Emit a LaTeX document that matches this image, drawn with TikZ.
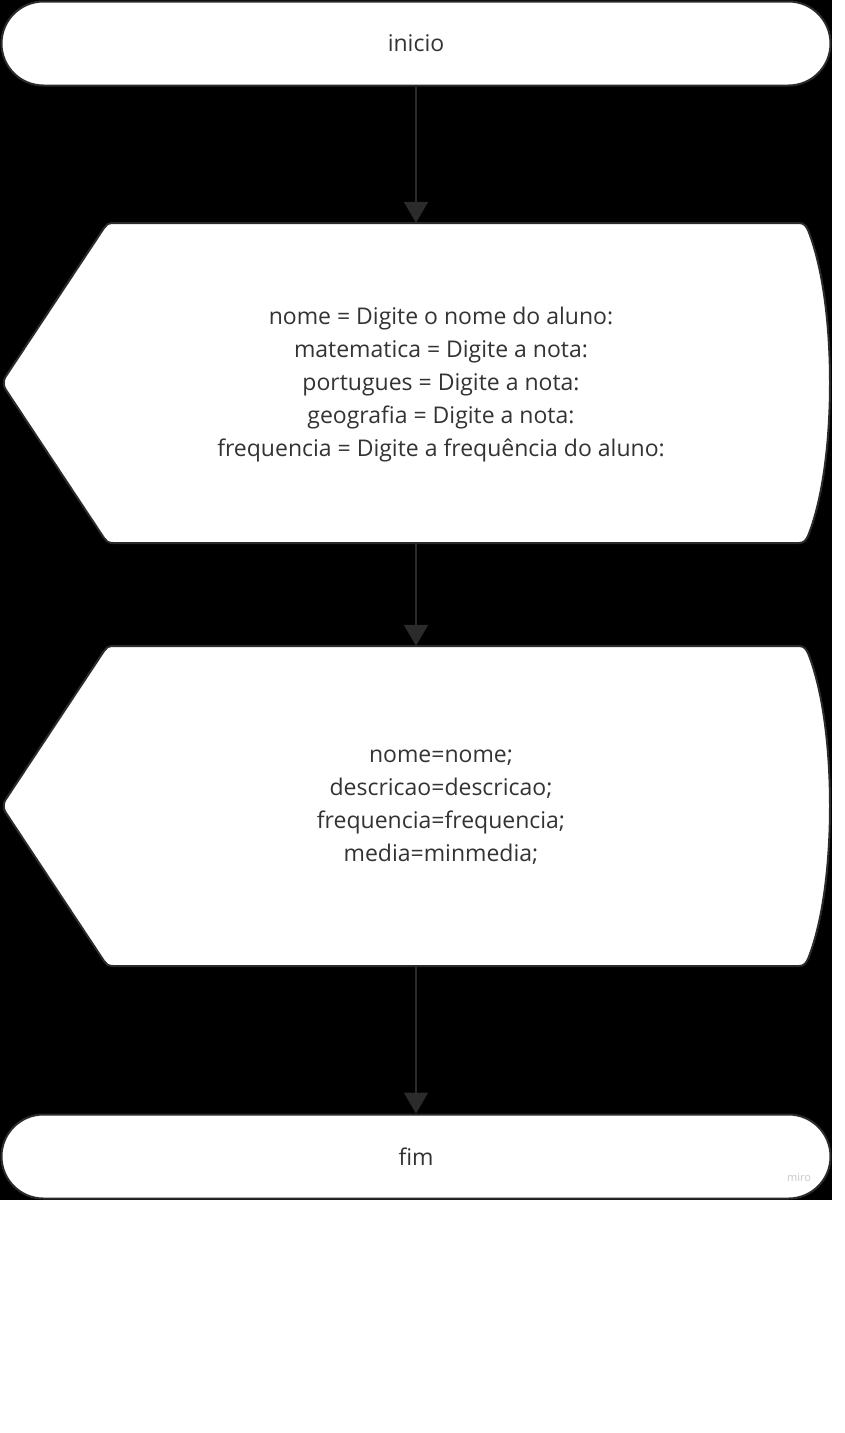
\documentclass[tikz,border=0pt]{standalone}
\usepackage{fontspec}
\setmainfont{Open Sans}
\usetikzlibrary{shapes.misc,arrows.meta}
\definecolor{edgecol}{RGB}{43,43,43}
\definecolor{txtcol}{RGB}{51,51,51}
\definecolor{mirocol}{RGB}{200,200,205}
\begin{document}
\begin{tikzpicture}[x=1pt,y=-1pt,
  term/.style={rounded rectangle, draw=edgecol, line width=2pt, fill=white,
    minimum width=829pt, minimum height=84pt, inner sep=0pt,
    font=\fontsize{23}{33}\selectfont, text=txtcol},
  dbox/.style={inner sep=0pt, minimum width=826pt, minimum height=320pt},
  dtext/.style={inner sep=0pt, align=center,
    font=\fontsize{23}{33}\selectfont, text=txtcol},
  dispshape/.style={draw=edgecol, line width=2pt, fill=white},
  flow/.style={draw=edgecol, line width=2.5pt, -{Triangle[width=24pt,length=21pt]}}
]
\useasboundingbox (0,0) rectangle (844,1433);
\fill[black] (0,0) rectangle (832,1200);
% start
\node[term] (start) at (416,43.5) {inicio};
% display 1
\draw[dispshape] (113,223) -- (799,223) .. controls (804,223) and (806,226) .. (808,230)
  .. controls (824,270) and (830,330) .. (830,383)
  .. controls (830,436) and (824,496) .. (808,536) .. controls (806,540) and (804,543) .. (799,543)
  -- (113,543) .. controls (108,543) and (106,541) .. (104,538)
  -- (6,390) .. controls (3,386) and (3,380) .. (6,376)
  -- (104,228) .. controls (106,225) and (108,223) .. (113,223) -- cycle;
\node[dbox] (d1) at (416,383) {};
\node[dtext] (t1) at (441,384.5) {nome = Digite o nome do aluno:\\matematica = Digite a nota:\\portugues = Digite a nota:\\geografia = Digite a nota:\\frequencia = Digite a frequência do aluno:};
% display 2
\draw[dispshape] (113,646) -- (799,646) .. controls (804,646) and (806,649) .. (808,653)
  .. controls (824,693) and (830,753) .. (830,806)
  .. controls (830,859) and (824,919) .. (808,959) .. controls (806,963) and (804,966) .. (799,966)
  -- (113,966) .. controls (108,966) and (106,964) .. (104,961)
  -- (6,813) .. controls (3,809) and (3,803) .. (6,799)
  -- (104,651) .. controls (106,648) and (108,646) .. (113,646) -- cycle;
\node[dbox] (d2) at (416,806) {};
\node[dtext] (t2) at (441,807.5) {nome=nome;\\descricao=descricao;\\frequencia=frequencia;\\media=minmedia;};
% end
\node[term] (end) at (416,1156.5) {fim};
\node[text=mirocol, font=\fontsize{11}{12}\selectfont, inner sep=0pt] (miro) at (799,1178) {miro};
% connectors
\draw[flow] (start.south) -- (d1.north);
\draw[flow] (d1.south) -- (d2.north);
\draw[flow] (d2.south) -- (end.north);
\end{tikzpicture}
\end{document}
